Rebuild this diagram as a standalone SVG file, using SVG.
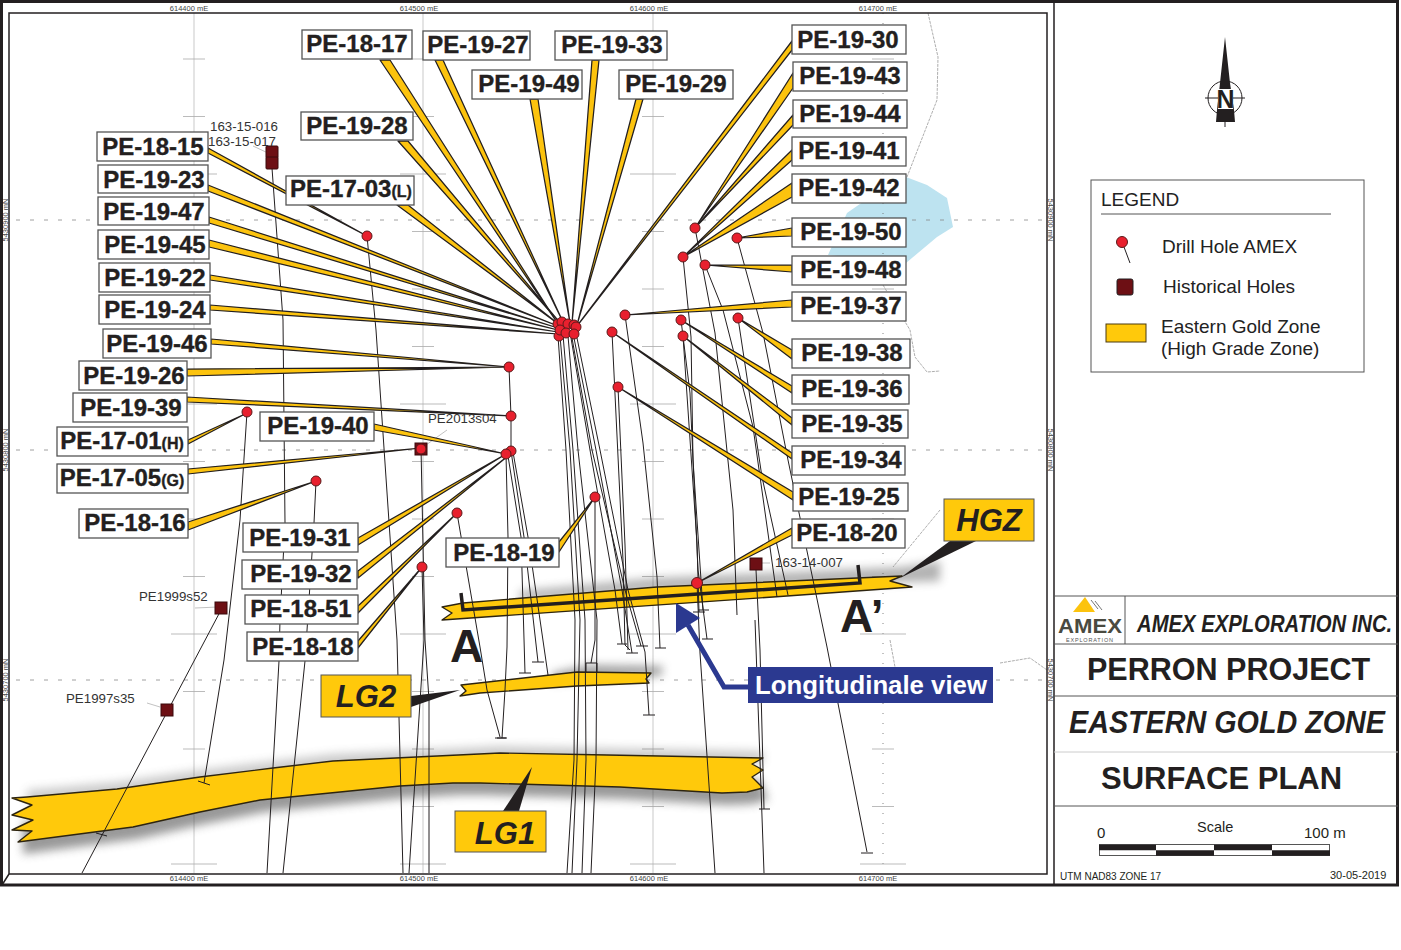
<svg xmlns="http://www.w3.org/2000/svg" xmlns:xlink="http://www.w3.org/1999/xlink" width="1401" height="950" viewBox="0 0 1401 950">
<style>
text{font-family:"Liberation Sans",Arial,sans-serif;fill:#231f20}
.lb rect{fill:#fff;stroke:#555;stroke-width:1.3}
.lb text{font-size:24px;font-weight:700;text-anchor:middle;stroke:#231f20;stroke-width:.35}
.lb tspan{font-size:16px}
.w polygon{fill:#fcc30e;stroke:#231f20;stroke-width:1.25;stroke-linejoin:round}
.t path{fill:none;stroke:#231f20;stroke-width:1}
.h circle{fill:#e8202e;stroke:#5a1a1a;stroke-width:1}
.s rect{fill:#6d0f14;stroke:#3a0a0c;stroke-width:1}
.z{fill:#ffc90b;stroke:#2d2410;stroke-width:1.4;stroke-linejoin:round}
.sh{fill:#555;filter:url(#b)}
.gold{fill:#ffc90b;stroke:#555;stroke-width:1}
.gz{font-size:31px;font-weight:700;font-style:italic;text-anchor:middle}
.sm{font-size:13.300px;fill:#333}
.tk{font-size:7.500px;fill:#444;text-anchor:middle}
.row{stroke:#555;stroke-width:1;fill:none}
.ttl{font-size:31px;font-weight:700}
.lg{font-size:19px;fill:#222}
</style>
<defs>
<filter id="b" x="-20%" y="-100%" width="140%" height="300%"><feGaussianBlur stdDeviation="5"/></filter>
<path id="col" fill="none" stroke="#aaa" stroke-width="0.8" d="M-11 59H11M-11 116.500H11M-23 174H23M-11 231.500H11M-11 289H11M-11 346.500H11M-23 404H23M-11 461.500H11M-11 519H11M-11 576.500H11M-23 634H23M-11 691.500H11M-11 749H11M-11 806.500H11M-23 864H23"/>
</defs>
<rect width="1401" height="950" fill="#fff"/>

<g id="base-map">
<polygon points="906,177 927,185 947,198 953,227 937,237 906,263 828,255 847,213 880,190" fill="#bde3f0"/>
<path fill="none" stroke="#999" stroke-width="0.8" stroke-dasharray="3 1" d="M928 13L938 57L937 100L907 177M883 285L910 330L915 357L927 372L940 371M940 510L893 567M890 640L895 667M1000 663L1030 658L1047 670"/>
<g stroke="#bbb" stroke-width="0.8" fill="none">
<path d="M194 13V873M423 13V873M653 13V873"/>
<path stroke-dasharray="1 9" stroke="#666" d="M883 13V873"/>
<path stroke="#888" stroke-dasharray="4 10" d="M16 220H1047M16 450H1047M16 680H1047"/>
</g>
<use xlink:href="#col" href="#col" x="194"/><use xlink:href="#col" href="#col" x="423"/><use xlink:href="#col" href="#col" x="653"/><use xlink:href="#col" href="#col" x="883"/>
<text class="tk" x="189" y="11">614400 mE</text><text class="tk" x="419" y="11">614500 mE</text><text class="tk" x="649" y="11">614600 mE</text><text class="tk" x="878" y="11">614700 mE</text>
<text class="tk" x="189" y="881">614400 mE</text><text class="tk" x="419" y="881">614500 mE</text><text class="tk" x="649" y="881">614600 mE</text><text class="tk" x="878" y="881">614700 mE</text>
<text class="tk" transform="translate(8 220) rotate(-90)">5430900 mN</text><text class="tk" transform="translate(8 450) rotate(-90)">5430800 mN</text><text class="tk" transform="translate(8 680) rotate(-90)">5430700 mN</text>
<text class="tk" transform="translate(1048 220) rotate(90)">5430900 mN</text><text class="tk" transform="translate(1048 450) rotate(90)">5430800 mN</text><text class="tk" transform="translate(1048 680) rotate(90)">5430700 mN</text>
</g>

<g id="zones">
<path class="sh" transform="translate(5,12)" opacity=".6" d="M18 810L117 795L200 785L273 775L333 768L500 760L607 762L755 768L763 788L747 792L722 793L620 787L480 783L453 783L400 786L260 800L200 812L133 827L18 842Z"/>
<path class="sh" transform="translate(0,-7)" opacity=".3" d="M27 797L117 789L200 777L273 768L333 761L500 753L607 755L763 758L763 770L27 810Z"/>
<path class="sh" transform="translate(0,-9)" opacity=".45" d="M520 600L657 587L902 576L940 570L940 590L657 600L520 610Z"/>
<path class="sh" transform="translate(12,-7)" opacity=".55" d="M540 680L577 672L651 673L649 683L577 686L540 690Z"/>
<polygon id="zone-lg1" class="z" points="12,798 27,797 117,789 200,777 273,768 333,761 500,753 607,755 763,758 752,764 763,770 752,777 763,788 747,792 722,793 620,787 480,783 453,783 400,786 260,800 200,812 133,827 18,842 32,831 12,830 33,820 12,815 32,805"/>
<polygon id="zone-lg2" class="z" points="461,685 577,672 651,673 646,679 649,683 577,686 480,693 460,696 466,691"/>
<polygon id="zone-hgz" class="z" points="442,607 463,603 657,587 902,576 890,581 912,587 773,597 442,620 452,613"/>
<path id="section" fill="none" stroke="#231f20" stroke-width="3.500" d="M461 593L463 610L860 583L858 565"/>
</g>

<g id="traces" class="t">
<path d="M272 168L283 320L285 523L280 620L279 661L267 873"/>
<path d="M367 236L376 330L397 640L403 873"/>
<path d="M247 412L240 520L224 660L204 783M198 781L210 785"/>
<path d="M316 481L314 523L305 661L283 873"/>
<path d="M221 610L82 873M96 833L107 836"/>
<path d="M421 448L425 640L429 700L429 873"/>
<path d="M422 567L424 640L409 873"/>
<path d="M457 513L480 647L487 690L500 737M495 738H506"/>
<path d="M506 454L508 537L507 647L505 690L502 738M497 738H507"/>
<path d="M508 456L521 537L525 673M519 673H531"/>
<path d="M511 451L524 537L538 662M532 662H544"/>
<path d="M513 452L528 537L548 675"/>
<path d="M509 367L511 416L511 451"/>
<path d="M558 336L566 450L575 620L574 760L567 873"/>
<path d="M560 336L570 450L580 620L577 760L572 873"/>
<path d="M563 335L573 450L585 620L586 760L582 873"/>
<path d="M568 336L578 450L597 620L596 760L591 873"/>
<path d="M571 338L590 450L615 590L622 644M617 644H627"/>
<path d="M574 338L596 450L622 590L632 653M626 653H638"/>
<path d="M572 338L592 450L625 590L641 646M636 646H648"/>
<path d="M577 338L600 450L628 590L645 652L649 715M643 715H655"/>
<path d="M595 497L595 640L591 663M586 663H597V672M586 663V672"/>
<path d="M612 332L623 560L625 645L630 650"/>
<path d="M618 387L625 545L628 650"/>
<path d="M625 315L643 443L657 577L660 648M655 648H666"/>
<path d="M683 336L697 543L699 612M693 612H705"/>
<path d="M683 257L691 337L693 460L703 610M698 610H709"/>
<path d="M681 320L690 393L698 570L707 639M702 639H713"/>
<path d="M695 228L715 333L733 510L737 615"/>
<path d="M705 265L723 310L753 427L777 597"/>
<path d="M737 238L763 333L788 460L827 647L867 852M861 853H873"/>
<path d="M738 318L762 477L788 595"/>
<path d="M697 583L700 653L715 873"/>
<path d="M756 570L760 650L764 809M759 809H770"/>
<path d="M755 620L764 873"/>
</g>

<g id="leaders" fill="none" stroke="#999" stroke-width="0.6">
<path d="M253 146L268 153M195 608L218 607M147 703L160 707M447 430L426 445M770 563L762 563"/>
</g>

<g id="connectors" class="w">
<polygon points="208,148 208,153 367,236"/>
<polygon points="208,185 208,191 558,326"/>
<polygon points="209,217 209,223 558,328"/>
<polygon points="209,240 209,247 558,330"/>
<polygon points="210,275 210,280 558,332"/>
<polygon points="210,305 210,310 558,334"/>
<polygon points="211,339 211,344 509,367"/>
<polygon points="187,369 187,376 509,367"/>
<polygon points="187,397 187,402 511,416"/>
<polygon points="188,440 188,444 245,414"/>
<polygon points="188,469 188,474 421,448"/>
<polygon points="188,522 188,530 316,481"/>
<polygon points="374,424 374,430 506,454"/>
<polygon points="358,538 358,545 506,454"/>
<polygon points="358,571 358,578 508,456"/>
<polygon points="358,606 358,613 457,513"/>
<polygon points="358,641 358,648 422,567"/>
<polygon points="380,60 390,60 558,324"/>
<polygon points="435,60 443,60 563,322"/>
<polygon points="530,99 538,99 570,323"/>
<polygon points="592,60 599,60 572,323"/>
<polygon points="636,99 643,99 577,325"/>
<polygon points="398,141 408,141 561,324"/>
<polygon points="397,205 408,205 561,326"/>
<polygon points="792,41 792,50 577,326"/>
<polygon points="793,73 793,88 695,228"/>
<polygon points="793,115 793,125 695,228"/>
<polygon points="792,150 792,160 683,257"/>
<polygon points="792,183 792,197 683,257"/>
<polygon points="792,228 792,236 737,238"/>
<polygon points="792,265 792,272 705,265"/>
<polygon points="792,300 792,307 625,315"/>
<polygon points="792,350 792,359 738,318"/>
<polygon points="792,386 792,393 681,320"/>
<polygon points="792,418 792,425 683,336"/>
<polygon points="792,453 792,459 612,332"/>
<polygon points="793,492 793,500 618,387"/>
<polygon points="792,528 792,535 697,583"/>
<polygon points="559,542 559,552 595,497"/>
</g>

<g id="historical-holes" class="s">
<g id="s-163-15-016"><rect x="266" y="146" width="12" height="12" rx="1"/></g>
<g id="s-163-15-017"><rect x="266" y="157" width="12" height="12" rx="1"/></g>
<g id="s-PE2013s04"><rect x="415" y="443" width="12" height="12"/></g>
<g id="s-PE1999s52"><rect x="215" y="602" width="12" height="12"/></g>
<g id="s-PE1997s35"><rect x="161" y="704" width="12" height="12"/></g>
<g id="s-163-14-007"><rect x="750" y="558" width="12" height="12"/></g>
</g>

<g id="drill-holes" class="h">
<g id="h1"><circle cx="367" cy="236" r="5"/></g>
<g id="h2"><circle cx="695" cy="228" r="5"/></g>
<g id="h3"><circle cx="737" cy="238" r="5"/></g>
<g id="h4"><circle cx="683" cy="257" r="5"/></g>
<g id="h5"><circle cx="705" cy="265" r="5"/></g>
<g id="h6"><circle cx="625" cy="315" r="5"/></g>
<g id="h7"><circle cx="612" cy="332" r="5"/></g>
<g id="h8"><circle cx="681" cy="320" r="5"/></g>
<g id="h9"><circle cx="683" cy="336" r="5"/></g>
<g id="h10"><circle cx="738" cy="318" r="5"/></g>
<g id="h11"><circle cx="509" cy="367" r="5"/></g>
<g id="h12"><circle cx="511" cy="416" r="5"/></g>
<g id="h13"><circle cx="511" cy="451" r="5"/></g>
<g id="h14"><circle cx="506" cy="454" r="5"/></g>
<g id="h15"><circle cx="247" cy="412" r="5"/></g>
<g id="h16"><circle cx="316" cy="481" r="5"/></g>
<g id="h17"><circle cx="595" cy="497" r="5"/></g>
<g id="h18"><circle cx="457" cy="513" r="5"/></g>
<g id="h19"><circle cx="422" cy="567" r="5"/></g>
<g id="h20"><circle cx="618" cy="387" r="5"/></g>
<g id="h21"><circle cx="697" cy="583" r="5.500"/></g>
<g id="h22"><circle cx="421" cy="449" r="5"/></g>
<g id="h23"><circle cx="558" cy="324" r="5"/></g>
<g id="h24"><circle cx="562" cy="322" r="5"/></g>
<g id="h25"><circle cx="568" cy="324" r="5"/></g>
<g id="h26"><circle cx="574" cy="325" r="5"/></g>
<g id="h27"><circle cx="576" cy="327" r="5"/></g>
<g id="h28"><circle cx="559" cy="336" r="5"/></g>
<g id="h29"><circle cx="560" cy="330" r="5"/></g>
<g id="h30"><circle cx="566" cy="333" r="5"/></g>
<g id="h31"><circle cx="574" cy="334" r="5"/></g>
</g>

<g id="small-labels">
<text class="sm" x="210" y="131">163-15-016</text>
<text class="sm" x="208" y="146">163-15-017</text>
<text class="sm" x="428" y="423">PE2013s04</text>
<text class="sm" x="139" y="601">PE1999s52</text>
<text class="sm" x="66" y="703">PE1997s35</text>
<text class="sm" x="775" y="567">163-14-007</text>
</g>

<g id="labels" class="lb">
<g id="PE-18-17"><rect x="302" y="30" width="110" height="29"/><text x="357" y="52">PE-18-17</text></g>
<g id="PE-19-27"><rect x="423" y="31" width="107" height="29"/><text x="478" y="53">PE-19-27</text></g>
<g id="PE-19-33"><rect x="555" y="31" width="112" height="29"/><text x="612" y="53">PE-19-33</text></g>
<g id="PE-19-49"><rect x="472" y="70" width="110" height="29"/><text x="529" y="92">PE-19-49</text></g>
<g id="PE-19-29"><rect x="619" y="70" width="114" height="29"/><text x="676" y="92">PE-19-29</text></g>
<g id="PE-19-28"><rect x="301" y="112" width="112" height="28"/><text x="357" y="134">PE-19-28</text></g>
<g id="PE-18-15"><rect x="97" y="132" width="111" height="29"/><text x="153" y="155">PE-18-15</text></g>
<g id="PE-19-23"><rect x="98" y="165" width="110" height="28"/><text x="154" y="188">PE-19-23</text></g>
<g id="PE-19-47"><rect x="98" y="197" width="111" height="28"/><text x="154" y="220">PE-19-47</text></g>
<g id="PE-19-45"><rect x="98" y="230" width="111" height="29"/><text x="155" y="253">PE-19-45</text></g>
<g id="PE-19-22"><rect x="99" y="263" width="111" height="29"/><text x="155" y="286">PE-19-22</text></g>
<g id="PE-19-24"><rect x="99" y="295" width="111" height="29"/><text x="155" y="318">PE-19-24</text></g>
<g id="PE-17-03"><rect x="286" y="176" width="128" height="29"/><text x="351" y="197">PE-17-03<tspan>(L)</tspan></text></g>
<g id="PE-19-46"><rect x="103" y="329" width="108" height="29"/><text x="157" y="352">PE-19-46</text></g>
<g id="PE-19-26"><rect x="79" y="361" width="108" height="29"/><text x="134" y="384">PE-19-26</text></g>
<g id="PE-19-39"><rect x="73" y="393" width="114" height="29"/><text x="131" y="416">PE-19-39</text></g>
<g id="PE-17-01"><rect x="57" y="427" width="131" height="29"/><text x="122" y="449">PE-17-01<tspan>(H)</tspan></text></g>
<g id="PE-17-05"><rect x="57" y="464" width="131" height="29"/><text x="122" y="486">PE-17-05<tspan>(G)</tspan></text></g>
<g id="PE-18-16"><rect x="79" y="509" width="109" height="29"/><text x="135" y="531">PE-18-16</text></g>
<g id="PE-19-40"><rect x="260" y="412" width="114" height="29"/><text x="318" y="434">PE-19-40</text></g>
<g id="PE-19-31"><rect x="243" y="523" width="115" height="29"/><text x="300" y="546">PE-19-31</text></g>
<g id="PE-19-32"><rect x="242" y="560" width="115" height="29"/><text x="301" y="582">PE-19-32</text></g>
<g id="PE-18-51"><rect x="245" y="595" width="113" height="29"/><text x="301" y="617">PE-18-51</text></g>
<g id="PE-18-18"><rect x="247" y="632" width="111" height="29"/><text x="303" y="655">PE-18-18</text></g>
<g id="PE-19-30"><rect x="792" y="25" width="114" height="29"/><text x="848" y="48">PE-19-30</text></g>
<g id="PE-19-43"><rect x="793" y="62" width="114" height="29"/><text x="850" y="84">PE-19-43</text></g>
<g id="PE-19-44"><rect x="793" y="100" width="114" height="28"/><text x="850" y="122">PE-19-44</text></g>
<g id="PE-19-41"><rect x="792" y="137" width="114" height="29"/><text x="849" y="159">PE-19-41</text></g>
<g id="PE-19-42"><rect x="792" y="174" width="114" height="29"/><text x="849" y="196">PE-19-42</text></g>
<g id="PE-19-50"><rect x="792" y="218" width="114" height="29"/><text x="851" y="240">PE-19-50</text></g>
<g id="PE-19-48"><rect x="792" y="256" width="114" height="29"/><text x="851" y="278">PE-19-48</text></g>
<g id="PE-19-37"><rect x="792" y="292" width="114" height="29"/><text x="851" y="314">PE-19-37</text></g>
<g id="PE-19-38"><rect x="792" y="339" width="118" height="29"/><text x="852" y="361">PE-19-38</text></g>
<g id="PE-19-36"><rect x="792" y="375" width="117" height="29"/><text x="852" y="397">PE-19-36</text></g>
<g id="PE-19-35"><rect x="792" y="410" width="116" height="28"/><text x="852" y="432">PE-19-35</text></g>
<g id="PE-19-34"><rect x="792" y="446" width="113" height="29"/><text x="851" y="468">PE-19-34</text></g>
<g id="PE-19-25"><rect x="793" y="483" width="115" height="28"/><text x="849" y="505">PE-19-25</text></g>
<g id="PE-18-20"><rect x="792" y="519" width="113" height="29"/><text x="847" y="541">PE-18-20</text></g>
<g id="PE-18-19"><rect x="446" y="538" width="113" height="29"/><text x="504" y="561">PE-18-19</text></g>
</g>

<g id="zone-tags">
<polygon points="411,696 460,690 411,707" fill="#231f20"/>
<polygon points="503,811 532,767 519,811" fill="#231f20"/>
<polygon points="900,578 950,541 976,541" fill="#231f20"/>
<g id="tag-LG2"><rect class="gold" x="321" y="675" width="90" height="42"/><text class="gz" x="366" y="707">LG2</text></g>
<g id="tag-LG1"><rect class="gold" x="455" y="811" width="91" height="41"/><text class="gz" x="505" y="844">LG1</text></g>
<g id="tag-HGZ"><rect class="gold" x="944" y="499" width="90" height="42"/><text class="gz" x="989" y="531">HGZ</text></g>
<text x="450" y="662" font-size="46" font-weight="700">A</text>
<text x="840" y="632" font-size="46" font-weight="700">A’</text>
<g id="callout">
<path d="M748 687H724L688 625" fill="none" stroke="#2b3990" stroke-width="5"/>
<polygon points="676,603 700,618 676,633" fill="#2b3990"/>
<rect x="748" y="667" width="245" height="36" fill="#2b3990"/>
<text x="755" y="694" font-size="26" font-weight="700" style="fill:#fff" textLength="232" lengthAdjust="spacingAndGlyphs">Longitudinale view</text>
</g>
</g>

<g id="frame" fill="none" stroke="#231f20">
<rect x="1.500" y="1.500" width="1396" height="883.500" stroke-width="3"/>
<rect x="9" y="13" width="1038" height="861" stroke-width="1.500"/>
<path d="M1054 2V885M2 885L9 874" stroke-width="1.500"/>
</g>

<g id="north-arrow">
<circle cx="1225" cy="98" r="17" fill="none" stroke="#231f20"/>
<path d="M1205 98H1245M1225 122V127" stroke="#231f20" fill="none"/>
<polygon points="1225,37 1230,83 1234,110 1235,122 1216,122 1217,110 1220,83" fill="#231f20"/>
<rect x="1218" y="89" width="15" height="20" fill="#fff"/>
<text x="1225.500" y="108" font-size="25" font-weight="700" text-anchor="middle">N</text>
</g>

<g id="legend">
<rect x="1091" y="180" width="273" height="192" fill="#fff" stroke="#555" stroke-width="1"/>
<text class="lg" x="1101" y="206">LEGEND</text>
<path d="M1101 214H1331" stroke="#555"/>
<path d="M1124 247L1130 263" stroke="#231f20"/>
<circle cx="1122" cy="242" r="5.500" fill="#e8202e" stroke="#5a1a1a"/>
<text class="lg" x="1162" y="253">Drill Hole AMEX</text>
<rect x="1117" y="279" width="16" height="16" rx="2" fill="#6d0f14" stroke="#231f20"/>
<text class="lg" x="1163" y="293">Historical Holes</text>
<rect x="1106" y="324" width="40" height="18" fill="#ffc90b" stroke="#4a3a10"/>
<text class="lg" x="1161" y="333">Eastern Gold Zone</text>
<text class="lg" x="1161" y="355">(High Grade Zone)</text>
</g>

<g id="title-block">
<path class="row" d="M1054 596H1398M1054 644H1398M1054 696H1398M1054 806H1398M1125 596V644"/>
<path d="M1054 752H1398" stroke="#ccc" fill="none"/>
<polygon points="1073,612 1095,612 1085,597" fill="#fcc30e"/>
<path d="M1091 600L1098 609M1095 601L1102 610" stroke="#777" fill="none"/>
<text x="1058" y="633" font-size="20" font-weight="700" style="fill:#4a4a40" textLength="64" lengthAdjust="spacingAndGlyphs">AMEX</text>
<text x="1066" y="641.500" font-size="5.500" style="fill:#555" textLength="47">EXPLORATION</text>
<text transform="translate(1137 632) scale(.845 1)" font-size="24" font-weight="700" font-style="italic">AMEX EXPLORATION INC.</text>
<text class="ttl" transform="translate(1087 680) scale(.985 1)">PERRON PROJECT</text>
<text class="ttl" transform="translate(1069 733) scale(.927 1)" font-style="italic">EASTERN GOLD ZONE</text>
<text class="ttl" x="1101" y="789">SURFACE PLAN</text>
<text x="1197" y="832" font-size="14.500">Scale</text>
<text x="1097" y="838" font-size="15">0</text>
<text x="1304" y="838" font-size="15">100 m</text>
<rect x="1099.500" y="844.500" width="230" height="11" fill="#fff" stroke="#555"/>
<path d="M1099 847.500H1156M1214 847.500H1272M1156 853H1214M1272 853H1330" stroke="#231f20" stroke-width="5.500" fill="none"/>
<text x="1060" y="880" font-size="10">UTM NAD83 ZONE 17</text>
<text x="1330" y="879" font-size="11">30-05-2019</text>
</g>
</svg>
